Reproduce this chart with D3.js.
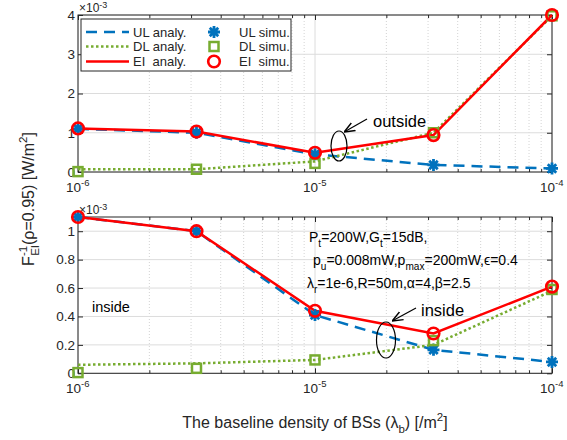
<!DOCTYPE html>
<html><head><meta charset="utf-8">
<script src="https://cdn.jsdelivr.net/npm/d3@7/dist/d3.min.js"></script>
<style>body{margin:0;background:#fff}svg{display:block;font-family:"Liberation Sans",Arial,sans-serif}</style>
</head><body><div id="c"></div>
<script>
// x: baseline BS density [/m^2]
const density = [1e-6, 3.162e-6, 1e-5, 3.162e-5, 1e-4];
// values in units of 1e-3 W/m^2
// top panel (outside)
const topULAnaly = [1.10, 1.00, 0.45, 0.18, 0.09];
const topULSimu  = [1.10, 1.00, 0.45, 0.18, 0.09];
const topDLAnaly = [0.07, 0.07, 0.27, 1.00, 3.98];
const topDLSimu  = [0.01, 0.07, 0.22, 1.00, 3.98];
const topEIAnaly = [1.11, 1.03, 0.49, 0.94, 4.00];
const topEISimu  = [1.11, 1.03, 0.49, 0.94, 4.00];
// bottom panel (inside)
const botULAnaly = [1.10, 1.00, 0.41, 0.165, 0.08];
const botULSimu  = [1.10, 1.00, 0.41, 0.165, 0.08];
const botDLAnaly = [0.06, 0.07, 0.094, 0.20, 0.58];
const botDLSimu  = [0.005, 0.035, 0.094, 0.23, 0.59];
const botEIAnaly = [1.10, 1.00, 0.44, 0.28, 0.61];
const botEISimu  = [1.10, 1.00, 0.44, 0.28, 0.61];
const topYTicks = [0, 1, 2, 3, 4];
const botYTicks = [0, 0.2, 0.4, 0.6, 0.8, 1];
const botYTickLabels = ["0", "0.2", "0.4", "0.6", "0.8", "1"];
const xTicks = [1e-6, 1e-5, 1e-4];
const xTickExps = ["-6", "-5", "-4"];
const legendItems = ["UL analy.", "DL analy.", "EI  analy."];
const legendSimu = ["UL simu.", "DL simu.", "EI  simu."];

const W = 567, H = 440;
const C = {ul: "#0072BD", dl: "#77AC30", ei: "#FF0000", ax: "#262626"};
const svg = d3.select("#c").append("svg").attr("width", W).attr("height", H);
const x = d3.scaleLog().domain([1e-6, 1e-4]).range([78, 552]);
const minor = [];
for (let e = -6; e < -4; e++) for (let k = 2; k <= 9; k++) minor.push(k * Math.pow(10, e));

function panel(top, bottom, ymax, yTicks, yLabels, sets) {
  const y = d3.scaleLinear().domain([0, ymax]).range([bottom, top]);
  const g = svg.append("g");
  // grid
  g.selectAll(".mg").data(minor).join("line").attr("x1", d => x(d)).attr("x2", d => x(d))
    .attr("y1", top).attr("y2", bottom).attr("stroke", "#c8c8c8").attr("stroke-width", 0.8).attr("stroke-dasharray", "1,2");
  g.selectAll(".xg").data(xTicks).join("line").attr("x1", d => x(d)).attr("x2", d => x(d))
    .attr("y1", top).attr("y2", bottom).attr("stroke", "#dcdcdc").attr("stroke-width", 1);
  g.selectAll(".yg").data(yTicks).join("line").attr("x1", 78).attr("x2", 552)
    .attr("y1", d => y(d)).attr("y2", d => y(d)).attr("stroke", "#dcdcdc").attr("stroke-width", 1);
  // axes via d3 axis (inside ticks)
  const xb = d3.axisBottom(x).tickValues(xTicks).tickSize(-5).tickFormat("");
  const xbm = d3.axisBottom(x).tickValues(minor).tickSize(-3).tickFormat("");
  const xt = d3.axisTop(x).tickValues(xTicks).tickSize(-5).tickFormat("");
  const xtm = d3.axisTop(x).tickValues(minor).tickSize(-3).tickFormat("");
  const yl = d3.axisLeft(y).tickValues(yTicks).tickSize(-5).tickPadding(3).tickFormat((d, i) => yLabels[i]);
  const yr = d3.axisRight(y).tickValues(yTicks).tickSize(-5).tickFormat("");
  const st = sel => { sel.selectAll("path").remove(); sel.selectAll("line").attr("stroke", C.ax);
    sel.selectAll("text").attr("fill", C.ax).style("font-size", "13.5px").style("font-family", "Liberation Sans, Arial"); };
  g.append("g").attr("transform", `translate(0,${bottom})`).call(xb).call(st);
  g.append("g").attr("transform", `translate(0,${bottom})`).call(xbm).call(st);
  g.append("g").attr("transform", `translate(0,${top})`).call(xt).call(st);
  g.append("g").attr("transform", `translate(0,${top})`).call(xtm).call(st);
  g.append("g").attr("transform", `translate(78,0)`).call(yl).call(st);
  g.append("g").attr("transform", `translate(552,0)`).call(yr).call(st);
  g.append("rect").attr("x", 78).attr("y", top).attr("width", 474).attr("height", bottom - top)
    .attr("fill", "none").attr("stroke", C.ax).attr("stroke-width", 1);
  // x tick labels 10^e
  xTicks.forEach((d, i) => {
    const t = g.append("text").attr("x", x(d) - 12).attr("y", bottom + 20).attr("fill", C.ax).style("font-size", "13.5px");
    t.append("tspan").text("10");
    t.append("tspan").attr("dy", -6).style("font-size", "9.5px").text(xTickExps[i]);
  });
  // exponent
  const ex = g.append("text").attr("x", 79).attr("y", top - 3).attr("fill", C.ax).style("font-size", "12px");
  ex.append("tspan").text("\u00d710");
  ex.append("tspan").attr("dy", -4).style("font-size", "9px").text("-3");
  // lines
  const line = arr => d3.line().x((d, i) => x(density[i])).y(d => y(d))(arr);
  g.append("path").attr("d", line(sets.ulA)).attr("fill", "none").attr("stroke", C.ul).attr("stroke-width", 2.5).attr("stroke-dasharray", "11,7");
  g.append("path").attr("d", line(sets.dlA)).attr("fill", "none").attr("stroke", C.dl).attr("stroke-width", 2.5).attr("stroke-dasharray", "2.5,2.5");
  g.append("path").attr("d", line(sets.eiA)).attr("fill", "none").attr("stroke", C.ei).attr("stroke-width", 2.5);
  // markers
  sets.ulS.forEach((d, i) => star(g, x(density[i]), y(d)));
  sets.dlS.forEach((d, i) => square(g, x(density[i]), y(d)));
  sets.eiS.forEach((d, i) => circle(g, x(density[i]), y(d)));
  return y;
}
function star(g, cx, cy) {
  const r = 6, a = r * 0.707;
  g.append("path").attr("d", `M${cx - r},${cy}L${cx + r},${cy}M${cx},${cy - r}L${cx},${cy + r}M${cx - a},${cy - a}L${cx + a},${cy + a}M${cx - a},${cy + a}L${cx + a},${cy - a}`)
    .attr("stroke", C.ul).attr("stroke-width", 2.8).attr("fill", "none");
}
function square(g, cx, cy) {
  g.append("rect").attr("x", cx - 4.5).attr("y", cy - 4.5).attr("width", 9).attr("height", 9)
    .attr("fill", "none").attr("stroke", C.dl).attr("stroke-width", 2.5);
}
function circle(g, cx, cy) {
  g.append("circle").attr("cx", cx).attr("cy", cy).attr("r", 5.8).attr("fill", "none").attr("stroke", C.ei).attr("stroke-width", 2.6);
}

panel(15, 172, 4, topYTicks, topYTicks.map(String),
  {ulA: topULAnaly, ulS: topULSimu, dlA: topDLAnaly, dlS: topDLSimu, eiA: topEIAnaly, eiS: topEISimu});
panel(217, 373.3, 1.1, botYTicks, botYTickLabels,
  {ulA: botULAnaly, ulS: botULSimu, dlA: botDLAnaly, dlS: botDLSimu, eiA: botEIAnaly, eiS: botEISimu});

// legend
const lg = svg.append("g");
lg.append("rect").attr("x", 81).attr("y", 19).attr("width", 210).attr("height", 52).attr("fill", "#fff").attr("stroke", C.ax).attr("stroke-width", 1);
const rowsY = [32, 46.5, 61.5];
const cols = [C.ul, C.dl, C.ei];
const dashes = ["11,7", "2.5,2.5", null];
rowsY.forEach((ry, i) => {
  const l = lg.append("line").attr("x1", 86).attr("x2", 129).attr("y1", ry).attr("y2", ry).attr("stroke", cols[i]).attr("stroke-width", 2.5);
  if (dashes[i]) l.attr("stroke-dasharray", dashes[i]);
  lg.append("text").attr("x", 133).attr("y", ry + 4.5).attr("fill", C.ax).style("font-size", "13px").style("white-space", "pre").attr("xml:space", "preserve").text(legendItems[i]);
  lg.append("text").attr("x", 239).attr("y", ry + 4.5).attr("fill", C.ax).style("font-size", "13px").style("white-space", "pre").attr("xml:space", "preserve").text(legendSimu[i]);
});
star(lg, 214, rowsY[0]); square(lg, 214, rowsY[1]); circle(lg, 214, rowsY[2]);

// annotations
svg.append("defs").append("marker").attr("id", "ah").attr("viewBox", "0 0 10 10").attr("refX", 9).attr("refY", 5)
  .attr("markerWidth", 9).attr("markerHeight", 9).attr("orient", "auto-start-reverse")
  .append("path").attr("d", "M0,1L10,5L0,9").attr("fill", "none").attr("stroke", "#000").attr("stroke-width", 1.3);
function note(ex, ey, rx, ry, ax1, ay1, ax2, ay2, tx, ty, txt, fs) {
  svg.append("ellipse").attr("cx", ex).attr("cy", ey).attr("rx", rx).attr("ry", ry).attr("fill", "none").attr("stroke", "#000").attr("stroke-width", 1.2);
  svg.append("line").attr("x1", ax1).attr("y1", ay1).attr("x2", ax2).attr("y2", ay2).attr("stroke", "#000").attr("stroke-width", 1.2).attr("marker-end", "url(#ah)");
  svg.append("text").attr("x", tx).attr("y", ty).style("font-size", fs + "px").attr("fill", "#000").text(txt);
}
note(339, 146, 8, 15, 367, 119, 345, 131.5, 373, 127, "outside", 16.5);
note(386, 340, 9.5, 18, 416, 308, 393, 320.5, 421, 316, "inside", 16.5);
svg.append("text").attr("x", 92).attr("y", 312).style("font-size", "14.5px").attr("fill", "#000").text("inside");

// parameter text
function rich(xp, yp, parts, fs) {
  const t = svg.append("text").attr("x", xp).attr("y", yp).style("font-size", fs + "px").attr("fill", "#000");
  let sub = false;
  parts.forEach(p => {
    if (p[1] === "sub") { t.append("tspan").attr("dy", 5).style("font-size", (fs * 0.72) + "px").text(p[0]); sub = true; }
    else { const s = t.append("tspan").text(p[0]); if (sub) { s.attr("dy", -5); sub = false; } }
  });
  return t;
}
rich(309, 242, [["P"], ["t", "sub"], ["=200W,G"], ["t", "sub"], ["=15dB,"]], 14);
rich(313, 265, [["p"], ["u", "sub"], ["=0.008mW,p"], ["max", "sub"], ["=200mW,\u03f5=0.4"]], 14);
rich(307, 288, [["\u03bb"], ["r", "sub"], ["=1e-6,R=50m,\u03b1=4,\u03b2=2.5"]], 14);

// axis labels
const xl = svg.append("text").attr("x", 315).attr("y", 428).attr("text-anchor", "middle").attr("fill", C.ax).style("font-size", "16px");
xl.append("tspan").text("The baseline density of BSs (\u03bb");
xl.append("tspan").attr("dy", 5).style("font-size", "11.5px").text("b");
xl.append("tspan").attr("dy", -5).text(") [/m");
xl.append("tspan").attr("dy", -7).style("font-size", "11.5px").text("2");
xl.append("tspan").attr("dy", 7).text("]");

const yLab = svg.append("text").attr("transform", "translate(34,199) rotate(-90)").attr("text-anchor", "middle").attr("fill", C.ax).style("font-size", "16px");
yLab.append("tspan").text("F");
yLab.append("tspan").attr("dy", -7).style("font-size", "11.5px").text("-1");
yLab.append("tspan").attr("dy", 12).attr("dx", -10).style("font-size", "11.5px").text("EI");
yLab.append("tspan").attr("dy", -5).text("(\u03c1=0.95) [W/m");
yLab.append("tspan").attr("dy", -7).style("font-size", "11.5px").text("2");
yLab.append("tspan").attr("dy", 7).text("]");
</script></body></html>
